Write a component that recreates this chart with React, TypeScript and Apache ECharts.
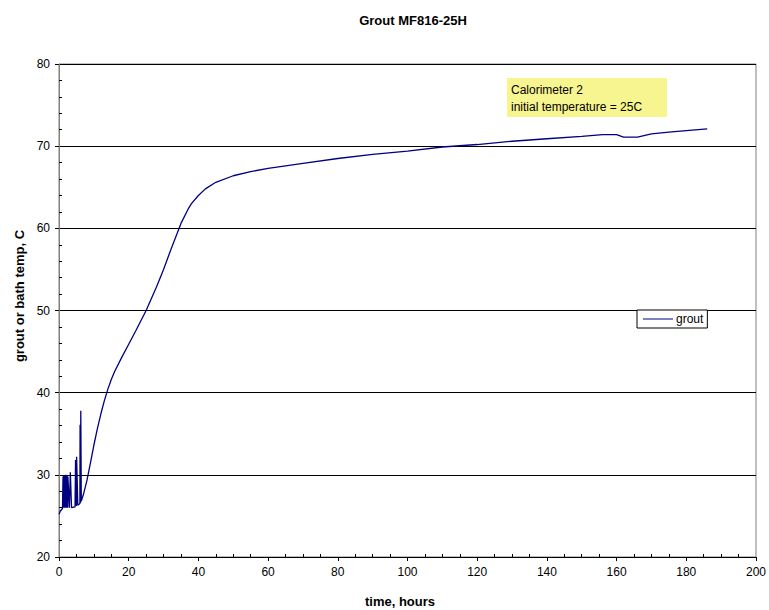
import React, { useEffect, useRef } from "react";
import * as echarts from "echarts";

const seriesName = "grout";
const timeHours = [
  0, 0.4, 1.0, 1.1, 1.15, 1.3, 1.35, 1.5, 1.55, 1.7, 1.75, 1.9, 1.95, 2.1, 2.15, 2.3, 2.35, 2.5, 2.55,
  3.0, 3.2, 3.25, 3.6, 4.6, 4.7, 4.75, 5.0, 5.05, 5.4, 6.0, 6.05, 6.2, 6.25, 6.4,
  7, 8, 9, 10, 11, 12, 13, 14, 15, 16, 18, 20, 22, 25, 28, 30, 32, 35, 37, 38, 40, 42, 45, 50,
  55, 60, 70, 80, 90, 100, 110, 120, 130, 140, 150, 156, 158, 160, 162, 166, 170, 175, 180, 186,
];
const groutTemp = [
  25.2, 25.6, 25.9, 25.9, 29.8, 26.0, 29.9, 26.0, 29.9, 26.0, 29.8, 26.0, 30.0, 26.0, 29.9, 26.0, 29.9, 26.0, 29.8,
  26.0, 26.0, 30.3, 26.0, 26.1, 26.1, 31.8, 26.2, 32.2, 26.3, 26.5, 36.1, 26.6, 37.8, 26.8,
  27.6, 29.3, 31.4, 33.6, 35.6, 37.4, 39.0, 40.4, 41.6, 42.6, 44.3, 45.9, 47.5, 50.0, 52.9, 55.0, 57.3, 60.6, 62.3, 63.0,
  64.0, 64.8, 65.6, 66.4, 66.9, 67.3, 67.9, 68.5, 69.0, 69.4, 69.9, 70.2, 70.6, 70.9, 71.2, 71.4, 71.4, 71.4, 71.1,
  71.1, 71.5, 71.7, 71.9, 72.1,
];
const chartTitle = "Grout MF816-25H";
const xAxisName = "time, hours";
const yAxisName = "grout or bath temp, C";
const noteLines = ["Calorimeter 2", "initial temperature = 25C"];

const FONT = "'Liberation Sans', Arial, sans-serif";

export default function App() {
  const ref = useRef<HTMLDivElement>(null);
  useEffect(() => {
    if (!ref.current) return;
    const chart = echarts.init(ref.current, undefined, { renderer: "svg" });
    const data = timeHours.map((t, i) => [t, groutTemp[i]]);
    chart.setOption({
      animation: false,
      backgroundColor: "#ffffff",
      textStyle: { fontFamily: FONT },
      title: {
        text: chartTitle,
        left: 408,
        top: 9,
        textAlign: "center",
        textStyle: { fontSize: 13, fontWeight: "bold", color: "#000", fontFamily: FONT },
      },
      grid: {
        left: 59,
        right: 10,
        top: 64,
        bottom: 53,
        show: true,
        borderColor: "#808080",
        borderWidth: 1,
        backgroundColor: "transparent",
      },
      legend: {
        data: [{ name: seriesName, icon: "path://M0,0 L30,0 L30,1 L0,1 Z" }],
        left: 637,
        top: 310,
        itemWidth: 30,
        itemHeight: 1,
        itemGap: 4,
        padding: [3, 4, 3, 6],
        backgroundColor: "#fff",
        borderColor: "#000",
        borderWidth: 1,
        borderRadius: 0,
        textStyle: { fontSize: 12, color: "#000", fontFamily: FONT, padding: [0, 0, 0, -2] },
      },
      xAxis: {
        type: "value",
        min: 0,
        max: 200,
        interval: 20,
        axisLine: { show: true, onZero: false, lineStyle: { color: "#000", width: 1 } },
        axisTick: { show: true, length: 4, lineStyle: { color: "#000" } },
        minorTick: { show: true, splitNumber: 4, length: -3, lineStyle: { color: "#000" } },
        axisLabel: { fontSize: 12, color: "#000", margin: 9, fontFamily: FONT },
        splitLine: { show: false },
      },
      yAxis: {
        type: "value",
        min: 20,
        max: 80,
        interval: 10,
        axisLine: { show: true, onZero: false, lineStyle: { color: "#808080", width: 1 } },
        axisTick: { show: true, length: 4, lineStyle: { color: "#000" } },
        minorTick: { show: true, splitNumber: 5, length: -3, lineStyle: { color: "#000" } },
        axisLabel: { fontSize: 12, color: "#000", margin: 9, fontFamily: FONT },
        splitLine: { show: true, lineStyle: { color: "#000", width: 1 } },
      },
      graphic: [
        {
          type: "text",
          x: 19,
          y: 296,
          rotation: Math.PI / 2,
          style: {
            text: yAxisName,
            fontSize: 13,
            fontWeight: "bold",
            fill: "#000",
            fontFamily: FONT,
            align: "center",
            verticalAlign: "middle",
          },
        },
        {
          type: "text",
          x: 400,
          y: 601,
          style: {
            text: xAxisName,
            fontSize: 13,
            fontWeight: "bold",
            fill: "#000",
            fontFamily: FONT,
            align: "center",
            verticalAlign: "middle",
          },
        },
        {
          type: "rect",
          left: 507,
          top: 78,
          shape: { width: 160, height: 39 },
          style: { fill: "#f7f58f" },
          z: 10,
        },
        {
          type: "text",
          left: 511,
          top: 81,
          style: {
            text: noteLines.join("\n"),
            fontSize: 12,
            lineHeight: 17,
            fill: "#000",
            fontFamily: FONT,
          },
          z: 11,
        },
      ],
      series: [
        {
          name: seriesName,
          type: "line",
          data,
          showSymbol: false,
          symbol: "none",
          lineStyle: { color: "#000080", width: 1.3 },
          itemStyle: { color: "#000080" },
        },
      ],
    });
    return () => chart.dispose();
  }, []);
  return <div ref={ref} style={{ width: 769, height: 610, position: "absolute", left: 0, top: 0 }} />;
}
